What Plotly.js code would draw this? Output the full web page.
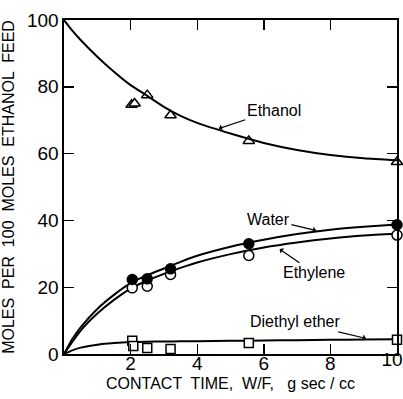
<!DOCTYPE html>
<html>
<head>
<meta charset="utf-8">
<script src="https://cdn.plot.ly/plotly-3.0.1.min.js"></script>
<style>
  html, body { margin: 0; padding: 0; background: #fff; }
  #chart { width: 403px; height: 399px; }
</style>
</head>
<body>
<div id="chart"></div>
<script>
// Product distribution vs. contact time: smooth curves and measured points
const curveX        = [0, 0.25, 0.5, 1, 1.5, 2, 2.5, 3, 3.5, 4, 5, 6, 7, 8, 9, 10];
const ethanolCurve  = [100, 96.8, 94, 89, 84.5, 80.5, 77.3, 74, 71.3, 69.2, 66, 63.2, 61.1, 59.6, 58.6, 58];
const waterCurve    = [0, 4.5, 8, 13.5, 17.7, 21.2, 23.6, 25.6, 27.6, 29.4, 32.1, 34.2, 35.9, 37.2, 38.1, 38.8];
const ethyleneCurve = [0, 3.6, 7, 12.1, 16.2, 19.6, 22, 24, 25.8, 27.4, 29.9, 31.9, 33.4, 34.6, 35.5, 36];
const etherCurve    = [0, 1.1, 1.9, 2.8, 3.3, 3.6, 3.7, 3.75, 3.8, 3.85, 3.95, 4.05, 4.15, 4.25, 4.35, 4.45];

const ethanolX = [2.03, 2.12, 2.5, 3.2, 5.55, 10];
const ethanolY = [74.6, 75.0, 77.5, 71.5, 63.8, 57.5];
const waterX   = [2.05, 2.5, 3.2, 5.55, 10];
const waterY   = [22.3, 22.5, 25.5, 33.0, 38.7];
const ethyleneX = [2.05, 2.5, 3.2, 5.55, 10];
const ethyleneY = [19.8, 20.3, 23.8, 29.5, 35.6];
const etherX   = [2.05, 2.08, 2.5, 3.2, 5.55, 10];
const etherY   = [4.0, 2.4, 1.8, 1.5, 3.3, 4.3];

const xTicks = [2, 4, 6, 8];
const xEndTick = [10];
const yTicks = [0, 20, 40, 60, 80, 100];

const FONT = '"Liberation Sans", Arial, sans-serif';

function curve(y, xaxis) {
  return { x: curveX, y: y, xaxis: xaxis || 'x', mode: 'lines',
           line: { color: '#000', width: 2, shape: 'spline', smoothing: 0.6 },
           hoverinfo: 'skip', showlegend: false };
}
function points(x, y, symbol, fill) {
  return { x: x, y: y, mode: 'markers', cliponaxis: false, showlegend: false,
           marker: { symbol: symbol, size: symbol === 'square' ? 9 : 10,
                     color: fill, line: { color: '#000', width: 1.5 } } };
}

const traces = [
  // the ethanol curve lives on the overlaid x2 axis (same 0-10 range), which carries the "10" label
  curve(ethanolCurve, 'x2'), curve(waterCurve), curve(ethyleneCurve), curve(etherCurve),
  points(ethanolX, ethanolY, 'triangle-up', '#fff'),
  points(etherX, etherY, 'square', '#fff'),
  points(ethyleneX, ethyleneY, 'circle', '#fff'),
  points(waterX, waterY, 'circle', '#000')
];

function label(text, tx, ty, px, py) {
  return { text: text, x: px, y: py, ax: tx, ay: ty, axref: 'x', ayref: 'y', xref: 'x', yref: 'y',
           showarrow: true, arrowhead: 1, arrowsize: 0.9, arrowwidth: 1.2, arrowcolor: '#000',
           standoff: 1, font: { family: FONT, size: 16, color: '#000' } };
}

const axisCommon = {
  showgrid: false, zeroline: false, showline: true, linecolor: '#000', linewidth: 1.6,
  mirror: 'ticks', ticks: 'inside', ticklen: 10, tickwidth: 1.4, tickcolor: '#000',
  tickfont: { family: FONT, size: 19, color: '#000' }
};

const layout = {
  width: 403, height: 399,
  margin: { l: 64, r: 6, t: 20, b: 45 },
  paper_bgcolor: '#fff', plot_bgcolor: '#fff',
  xaxis: Object.assign({}, axisCommon, {
    range: [0, 10], tickvals: xTicks, ticktext: xTicks.map(String),
    ticklabelstandoff: -8,
    title: { text: 'CONTACT  TIME,  W/F,   g sec / cc', standoff: 4,
             font: { family: FONT, size: 16, color: '#000' } }
  }),
  // end label "10" sits at the right frame edge, nudged inward so it stays in view
  xaxis2: {
    overlaying: 'x', anchor: 'y', side: 'bottom', range: [0, 10],
    tickvals: xEndTick, ticktext: xEndTick.map(String),
    showgrid: false, zeroline: false, showline: false, ticks: '',
    ticklabelstandoff: -8, ticklabelshift: -5,
    tickfont: { family: FONT, size: 19, color: '#000' }
  },
  yaxis: Object.assign({}, axisCommon, {
    range: [0, 100], tickvals: yTicks, ticktext: yTicks.map(String),
    title: { text: 'MOLES  PER  100  MOLES  ETHANOL  FEED', standoff: 10,
             font: { family: FONT, size: 16, color: '#000' } }
  }),
  annotations: [
    label('Ethanol', 6.3, 73, 4.62, 67.4),
    label('Water', 6.14, 40.4, 7.6, 36.9),
    label('Ethylene', 7.5, 24.3, 6.45, 31.6),
    label('Diethyl ether', 6.95, 9.6, 9.1, 4.6)
  ],
  showlegend: false
};

Plotly.newPlot('chart', traces, layout, { displayModeBar: false, staticPlot: true });
</script>
</body>
</html>
